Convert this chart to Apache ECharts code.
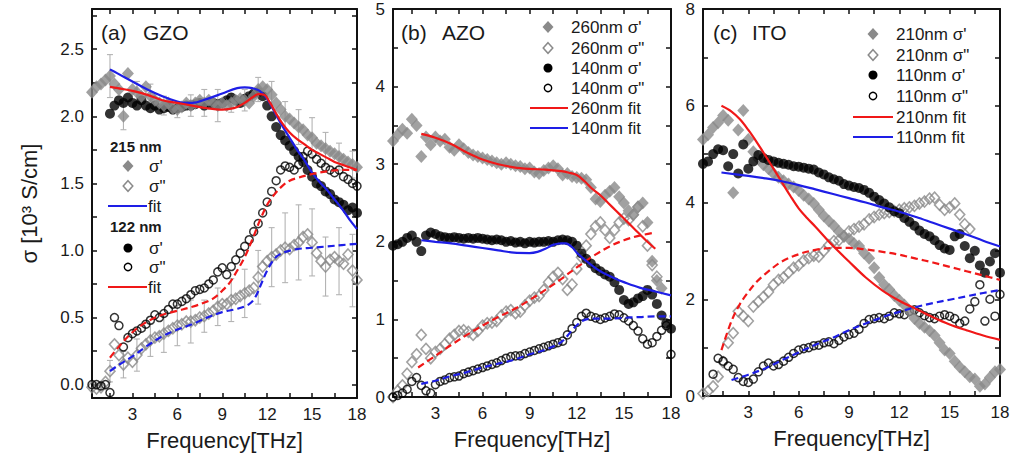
<!DOCTYPE html>
<html>
<head>
<meta charset="utf-8">
<script src="https://cdn.jsdelivr.net/npm/echarts@6/dist/echarts.min.js"></script>
<style>
  html, body { margin: 0; padding: 0; background: #fff; }
  #chart { width: 1011px; height: 459px; }
</style>
</head>
<body>
<div id="chart"></div>
<script>
// Frequency grid shared by all measured spectra (THz)
const freq = [0.3,0.6,0.9,1.2,1.5,1.8,2.1,2.4,2.7,3.0,
              3.3,3.6,3.9,4.2,4.5,4.8,5.1,5.4,5.7,6.0,
              6.3,6.6,6.9,7.2,7.5,7.8,8.1,8.4,8.7,9.0,
              9.3,9.6,9.9,10.2,10.5,10.8,11.1,11.4,11.7,12.0,
              12.3,12.6,12.9,13.2,13.5,13.8,14.1,14.4,14.7,15.0,
              15.3,15.6,15.9,16.2,16.5,16.8,17.1,17.4,17.7,18.0];

// Axis ticks and labels
const xTicks = [1.5,3,4.5,6,7.5,9,10.5,12,13.5,15,16.5];
const xLabels = [3,6,9,12,15,18];
const yTicksA = [0,0.25,0.5,0.75,1,1.25,1.5,1.75,2,2.25,2.5,2.75];
const yLabelsA = [0,0.5,1,1.5,2,2.5];
const yTicksB = [0.5,1,1.5,2,2.5,3,3.5,4,4.5];
const yLabelsB = [0,1,2,3,4,5];
const yTicksC = [1,2,3,4,5,6,7];
const yLabelsC = [0,2,4,6,8];

// (a) GZO, 215 nm film
const gzo215Re = [2.18,2.22,2.24,2.27,2.30,2.24,2.20,2.00,2.32,2.20,
                  2.18,2.15,2.22,2.15,2.12,2.10,2.08,2.10,2.06,2.05,
                  2.07,2.10,2.08,2.10,2.12,2.10,2.12,2.10,2.08,2.10,
                  2.08,2.10,2.12,2.13,2.12,2.10,2.15,2.20,2.22,2.20,
                  2.16,2.10,2.05,2.00,1.98,1.95,1.92,1.90,1.86,1.84,
                  1.80,1.78,1.76,1.74,1.72,1.70,1.68,1.66,1.64,1.62];
const gzo215Im = [-0.02,-0.03,-0.02,0.02,0.10,0.30,0.22,0.15,0.20,0.17,
                  0.22,0.27,0.30,0.33,0.35,0.36,0.38,0.40,0.42,0.44,
                  0.45,0.47,0.47,0.48,0.50,0.51,0.53,0.55,0.58,0.60,
                  0.60,0.63,0.64,0.66,0.68,0.70,0.72,0.80,0.88,0.92,
                  0.95,0.97,1.00,1.02,1.01,1.04,1.06,1.10,1.12,1.06,
                  0.98,0.92,0.88,0.93,0.95,0.92,0.90,0.97,0.85,0.78];
// error bar half-widths [freq, err]
const gzo215ReErr = [[1.5,0.16],[2.4,0.10],[3.3,0.08],[4.2,0.09],[5.1,0.07],[6.0,0.06],[6.9,0.08],
                     [7.8,0.10],[8.7,0.12],[9.6,0.07],[10.5,0.08],[11.4,0.09],[12.3,0.10],[13.2,0.11],
                     [14.1,0.13],[15.0,0.15],[15.9,0.12],[16.8,0.10],[17.7,0.10]];
const gzo215ImErr = [[1.5,0.08],[2.4,0.10],[3.3,0.12],[4.2,0.12],[5.1,0.14],[6.0,0.15],[6.9,0.16],
                     [7.8,0.12],[8.7,0.14],[9.6,0.16],[10.5,0.18],[11.4,0.20],[12.3,0.22],[13.2,0.26],
                     [14.1,0.28],[15.0,0.25],[15.9,0.22],[16.8,0.25],[17.7,0.27]];
// (a) GZO, 122 nm film
const gzo122Re = [null,null,null,null,2.02,2.08,2.12,2.10,2.14,2.10,
                  2.08,2.12,2.08,2.06,2.08,2.05,2.06,2.07,2.05,2.06,
                  2.07,2.08,2.08,2.09,2.10,2.08,2.09,2.10,2.09,2.10,
                  2.12,2.14,2.12,2.10,2.13,2.15,2.17,2.18,2.15,2.08,
                  2.00,1.92,1.86,1.82,1.78,1.74,1.70,1.66,1.60,1.55,
                  1.50,1.48,1.44,1.42,1.38,1.36,1.34,1.30,1.32,1.28];
const gzo122Im = [0.00,0.00,-0.01,0.00,-0.06,0.50,0.44,0.28,0.35,0.38,
                  0.40,0.42,0.45,0.48,0.52,0.50,0.53,0.56,0.60,0.60,
                  0.62,0.64,0.67,0.70,0.71,0.72,0.75,0.78,0.84,0.87,
                  0.82,0.88,0.93,0.98,1.03,1.08,1.14,1.20,1.28,1.36,
                  1.44,1.52,1.60,1.63,1.62,1.60,1.64,1.70,1.74,1.72,
                  1.68,1.65,1.62,1.60,1.58,1.60,1.55,1.53,1.50,1.48];
// (a) model fits [freq, sigma]
const gzo215FitRe = [[1.5,2.35],[2,2.32],[3,2.26],[4,2.20],[5,2.15],[6,2.11],[6.5,2.10],[7,2.10],[8,2.13],
                     [9,2.17],[10,2.21],[10.5,2.215],[11,2.21],[11.5,2.19],[12,2.13],[12.5,2.03],[13,1.93],
                     [13.5,1.84],[14,1.75],[14.5,1.67],[15,1.58],[15.5,1.51],[16,1.45],[16.5,1.38],
                     [17,1.31],[17.5,1.23],[18,1.16]];
const gzo215FitIm = [[1.5,0.10],[2,0.14],[3,0.21],[4,0.29],[5,0.36],[6,0.41],[7,0.45],[8,0.50],[9,0.54],
                     [10,0.565],[10.8,0.60],[11.2,0.65],[11.6,0.75],[12,0.85],[12.5,0.94],[13,0.98],
                     [14,1.01],[15,1.02],[16,1.03],[17,1.04],[18,1.05]];
const gzo122FitRe = [[1.5,2.22],[2,2.21],[3,2.19],[4,2.16],[5,2.12],[6,2.10],[7,2.08],[8,2.06],[9,2.05],
                     [9.5,2.055],[10,2.07],[10.5,2.10],[11,2.14],[11.4,2.165],[11.8,2.16],[12.2,2.10],
                     [12.6,2.02],[13,1.95],[13.5,1.88],[14,1.83],[14.5,1.79],[15,1.75],[15.5,1.72],
                     [16,1.69],[16.5,1.66],[17,1.64],[17.5,1.62],[18,1.60]];
const gzo122FitIm = [[1.5,0.20],[2,0.27],[3,0.39],[4,0.47],[5,0.52],[6,0.55],[7,0.58],[8,0.62],[8.5,0.65],
                     [9,0.70],[9.5,0.76],[10,0.85],[10.5,0.95],[11,1.08],[11.5,1.22],[12,1.34],[12.5,1.42],
                     [13,1.48],[13.5,1.52],[14,1.54],[15,1.57],[16,1.59],[17,1.60],[18,1.60]];

// (b) AZO, 260 nm and 140 nm films
const azo260Re = [3.30,3.38,3.45,3.40,3.58,3.50,3.10,3.35,3.25,3.35,
                  3.30,3.32,3.22,3.18,3.25,3.20,3.15,3.12,3.10,3.08,
                  3.06,3.04,3.02,3.00,3.02,3.00,2.98,2.97,2.94,2.95,
                  2.90,2.88,2.92,2.95,2.98,2.94,2.86,2.88,2.84,2.83,
                  2.82,2.80,2.70,2.55,2.52,2.60,2.65,2.70,2.58,2.50,
                  2.40,2.35,2.45,2.50,2.25,1.75,1.50,1.40,null,null];
const azo260Im = [0.00,0.08,0.15,0.30,0.45,0.55,0.80,0.62,0.50,0.58,
                  0.62,0.68,0.75,0.80,0.85,0.86,0.84,0.80,0.85,0.92,
                  0.95,0.96,0.98,1.05,1.10,1.12,1.08,1.10,1.18,1.24,
                  1.28,1.30,1.38,1.48,1.55,1.60,1.52,1.38,1.45,1.65,
                  1.80,1.95,2.10,2.20,2.25,2.15,2.05,2.15,2.25,2.30,
                  2.28,2.35,2.45,2.20,1.95,1.70,1.55,null,null,null];
const azo140Re = [1.95,1.97,2.00,2.05,2.08,2.00,1.88,2.08,2.12,2.10,
                  2.07,2.06,2.05,2.06,2.05,2.04,2.05,2.04,2.05,2.04,
                  2.03,2.02,2.03,2.02,2.00,2.01,1.99,2.00,1.98,2.00,
                  1.99,2.00,2.00,2.01,2.00,2.02,2.03,2.02,2.00,1.95,
                  1.85,1.78,1.72,1.66,1.62,1.58,1.55,1.48,1.38,1.25,
                  1.20,1.22,1.27,1.30,1.38,1.32,1.20,1.05,0.95,0.88];
const azo140Im = [0.00,0.02,0.05,0.10,0.20,0.25,0.15,0.08,0.05,0.16,
                  0.20,0.22,0.25,0.26,0.27,0.30,0.32,0.34,0.36,0.38,
                  0.40,0.42,0.44,0.47,0.50,0.52,0.53,0.53,0.56,0.58,
                  0.60,0.62,0.64,0.66,0.68,0.70,0.72,0.80,0.88,0.96,
                  1.04,1.08,1.04,1.02,1.00,1.02,1.04,1.07,1.06,1.02,
                  0.98,0.92,0.85,0.75,0.68,0.70,0.78,0.86,0.92,0.55];
const azo260FitRe = [[2.1,3.39],[3,3.34],[4,3.26],[5,3.15],[6,3.06],[7,3.00],[8,2.96],[9,2.94],[10,2.93],
                     [11,2.91],[11.5,2.89],[12,2.86],[12.5,2.78],[13,2.68],[13.5,2.60],[14,2.50],[14.5,2.40],
                     [15,2.30],[15.5,2.20],[16,2.10],[16.5,2.00],[17,1.91]];
const azo260FitIm = [[1.9,0.38],[3,0.53],[4,0.67],[5,0.80],[6,0.92],[7,1.03],[8,1.13],[9,1.25],[10,1.38],
                     [11,1.52],[12,1.67],[13,1.81],[14,1.93],[15,2.02],[16,2.08],[17,2.12]];
const azo140FitRe = [[2.1,2.02],[3,2.00],[4,1.98],[5,1.95],[6,1.92],[7,1.89],[8,1.86],[9,1.855],[9.5,1.87],
                     [10,1.91],[10.5,1.96],[11,1.98],[11.3,1.98],[11.7,1.93],[12,1.86],[12.5,1.77],[13,1.69],
                     [13.5,1.62],[14,1.57],[14.5,1.52],[15,1.48],[16,1.41],[17,1.36],[18,1.31]];
const azo140FitIm = [[2.1,0.17],[3,0.21],[4,0.27],[5,0.32],[6,0.38],[7,0.43],[8,0.48],[9,0.55],[10,0.61],
                     [10.8,0.68],[11.2,0.74],[11.7,0.86],[12.2,0.96],[12.6,1.00],[13,1.01],[14,1.01],
                     [15,1.02],[16,1.03],[17,1.04],[18,1.04]];

// (c) ITO, 210 nm and 110 nm films
const ito210Re = [5.30,5.40,5.55,5.65,5.80,5.70,4.20,5.50,5.90,5.30,
                  5.05,4.90,4.78,4.70,4.60,4.52,4.45,4.38,4.32,4.25,
                  4.15,4.07,3.98,3.85,3.72,3.62,3.52,3.40,3.30,3.25,
                  3.15,3.10,2.95,2.85,2.65,2.45,2.30,2.20,2.08,1.98,
                  1.88,1.75,1.60,1.50,1.42,1.35,1.25,1.10,0.95,0.88,
                  0.72,0.60,0.50,0.40,0.35,0.20,0.25,0.38,0.50,0.55];
const ito210Im = [0.05,0.10,0.20,0.40,0.70,1.10,1.30,1.75,1.65,1.55,
                  1.85,1.95,2.05,2.15,2.30,2.40,2.45,2.55,2.65,2.70,
                  2.80,2.85,2.90,2.88,3.00,3.12,3.20,3.22,3.30,3.40,
                  3.45,3.50,3.55,3.65,3.70,3.75,3.78,3.80,3.82,3.85,
                  3.88,3.90,3.93,3.98,4.02,4.08,4.10,3.95,3.85,3.90,
                  3.98,3.75,3.55,3.45,null,null,null,null,null,null];
const ito110Re = [4.80,4.85,5.00,5.10,5.08,4.75,5.00,4.60,5.20,4.70,
                  4.85,4.98,4.92,4.88,4.85,4.82,4.80,4.78,4.75,4.74,
                  4.72,4.70,4.68,4.62,4.58,4.52,4.48,4.45,4.38,4.35,
                  4.32,4.30,4.26,4.20,4.12,4.05,3.98,3.90,3.82,3.78,
                  3.68,3.60,3.52,3.42,3.35,3.30,3.22,3.12,3.05,3.02,
                  3.30,3.35,3.10,2.85,3.00,2.70,2.55,2.78,2.95,2.55];
const ito110Im = [null,null,0.45,0.78,0.72,0.62,0.55,0.38,0.30,0.28,
                  0.35,0.50,0.62,0.68,0.62,0.65,0.72,0.80,0.88,0.95,
                  0.98,1.00,1.04,1.05,1.10,1.12,1.08,1.15,1.22,1.27,
                  1.30,1.38,1.50,1.58,1.60,1.62,1.60,1.65,1.72,1.70,
                  1.68,1.75,1.78,1.72,1.66,1.62,1.60,1.65,1.68,1.65,
                  1.60,1.50,1.55,1.80,1.95,2.30,1.55,2.00,1.65,2.10];
const ito210FitRe = [[1.4,6.00],[2,5.88],[2.5,5.72],[3,5.50],[3.5,5.25],[4,4.98],[4.5,4.70],[5,4.42],
                     [5.5,4.14],[6,3.88],[6.5,3.68],[7,3.50],[8,3.12],[9,2.78],[10,2.45],[11,2.18],
                     [12,1.97],[13,1.80],[14,1.63],[15,1.48],[16,1.36],[17,1.25],[18,1.16]];
const ito210FitIm = [[1.4,0.95],[2,1.55],[2.5,1.90],[3,2.15],[3.5,2.36],[4,2.52],[5,2.78],[6,2.93],
                     [7,3.02],[8,3.06],[9,3.06],[10,3.03],[11,2.98],[12,2.92],[13,2.84],[14,2.76],
                     [15,2.67],[16,2.58],[17,2.49],[18,2.40]];
const ito110FitRe = [[1.4,4.62],[3,4.55],[4,4.50],[5,4.44],[6,4.36],[7,4.27],[8,4.18],[9,4.09],[10,4.00],
                     [11,3.90],[12,3.81],[13,3.70],[14,3.58],[15,3.46],[16,3.34],[17,3.21],[18,3.09]];
const ito110FitIm = [[2,0.33],[3,0.44],[4,0.57],[5,0.74],[6,0.90],[7,1.06],[8,1.20],[9,1.36],[10,1.50],
                     [11,1.63],[12,1.74],[13,1.84],[14,1.92],[15,1.99],[16,2.06],[17,2.13],[18,2.19]];

// ---------- styling ----------
const GRAY = '#8a8a8a';
const ERR = '#b4b4b4';
const RED = '#f01818';
const BLUE = '#1e1ee6';
const INK = '#1a1a1a';
const FONT = 'Arial, "Liberation Sans", sans-serif';

const markerKinds = {
  dFill: { symbol: 'diamond', symbolSize: [12, 13], itemStyle: { color: GRAY } },
  dOpen: { symbol: 'diamond', symbolSize: [10, 11], itemStyle: { color: 'rgba(255,255,255,0)', borderColor: GRAY, borderWidth: 1.6 } },
  cFill: { symbol: 'circle', symbolSize: 10, itemStyle: { color: '#000' } },
  cOpen: { symbol: 'circle', symbolSize: 8, itemStyle: { color: 'rgba(255,255,255,0)', borderColor: '#000', borderWidth: 1.5 } }
};

function pairs(vals) {
  const out = [];
  freq.forEach((f, i) => { if (vals[i] !== null) out.push([f, vals[i]]); });
  return out;
}

function markers(gi, vals, kind, z) {
  const k = markerKinds[kind];
  return {
    type: 'scatter', xAxisIndex: gi * 2, yAxisIndex: gi * 2, data: pairs(vals),
    symbol: k.symbol, symbolSize: k.symbolSize, itemStyle: k.itemStyle,
    silent: true, z: z || 2, clip: true
  };
}

function fit(gi, pts, color, dashed) {
  return {
    type: 'line', xAxisIndex: gi * 2, yAxisIndex: gi * 2, data: pts,
    smooth: 0.35, showSymbol: false, symbol: 'none', silent: true, z: 5, clip: true,
    lineStyle: { color: color, width: 2.2, type: dashed ? [7, 4] : 'solid' }
  };
}

function errorBars(gi, vals, errs) {
  const data = errs.map(([f, e]) => [f, vals[freq.indexOf(f)], e]);
  return {
    type: 'custom', xAxisIndex: gi * 2, yAxisIndex: gi * 2, data: data, silent: true, z: 1,
    renderItem: function (params, api) {
      const f = api.value(0), v = api.value(1), e = api.value(2);
      const hi = api.coord([f, v + e]), lo = api.coord([f, v - e]);
      const w = 3, st = { stroke: ERR, lineWidth: 1.1 };
      return { type: 'group', children: [
        { type: 'line', shape: { x1: hi[0], y1: hi[1], x2: lo[0], y2: lo[1] }, style: st },
        { type: 'line', shape: { x1: hi[0] - w, y1: hi[1], x2: hi[0] + w, y2: hi[1] }, style: st },
        { type: 'line', shape: { x1: lo[0] - w, y1: lo[1], x2: lo[0] + w, y2: lo[1] }, style: st }
      ]};
    }
  };
}

// ---------- axes ----------
const axisLineStyle = { color: '#111', width: 2 };
const tickStyle = { color: '#111', width: 1.5 };
const labelStyle = { color: INK, fontSize: 17, fontFamily: FONT };

function xAxes(gi) {
  const base = {
    type: 'value', gridIndex: gi, min: 0.3, max: 18,
    axisLine: { show: true, onZero: false, lineStyle: axisLineStyle },
    axisTick: { show: true, inside: true, length: 5, customValues: xTicks, lineStyle: tickStyle },
    splitLine: { show: false }
  };
  return [
    Object.assign({}, base, {
      position: 'bottom',
      axisLabel: Object.assign({ show: true, margin: 8, customValues: xLabels }, labelStyle),
      name: 'Frequency[THz]', nameLocation: 'middle', nameGap: 31,
      nameTextStyle: { color: INK, fontSize: 22, fontFamily: FONT }
    }),
    Object.assign({}, base, { position: 'top', axisLabel: { show: false } })
  ];
}

function yAxes(gi, min, max, ticks, labels, fmt, name) {
  const base = {
    type: 'value', gridIndex: gi, min: min, max: max,
    axisLine: { show: true, onZero: false, lineStyle: axisLineStyle },
    axisTick: { show: true, inside: true, length: 5, customValues: ticks, lineStyle: tickStyle },
    splitLine: { show: false }
  };
  const left = Object.assign({}, base, {
    position: 'left',
    axisLabel: Object.assign({ show: true, margin: 8, customValues: labels, formatter: fmt }, labelStyle)
  });
  if (name) {
    Object.assign(left, {
      name: name, nameLocation: 'middle', nameRotate: 90, nameGap: 52,
      nameTextStyle: { color: INK, fontSize: 22, fontFamily: FONT }
    });
  }
  return [left, Object.assign({}, base, { position: 'right', axisLabel: { show: false } })];
}

// ---------- legends and panel titles ----------
function icon(kind, cx, cy) {
  if (kind === 'dFill' || kind === 'dOpen') {
    const filled = kind === 'dFill';
    const hw = filled ? 5.5 : 4.8, hh = filled ? 6 : 5.3;
    return { type: 'polygon', shape: { points: [[cx, cy - hh], [cx + hw, cy], [cx, cy + hh], [cx - hw, cy]] },
             style: filled ? { fill: GRAY } : { fill: 'none', stroke: GRAY, lineWidth: 1.5 } };
  }
  if (kind === 'cFill') return { type: 'circle', shape: { cx: cx, cy: cy, r: 4.5 }, style: { fill: '#000' } };
  return { type: 'circle', shape: { cx: cx, cy: cy, r: 3.7 }, style: { fill: 'none', stroke: '#000', lineWidth: 1.4 } };
}
function lineIcon(color, x1, x2, y) {
  return { type: 'line', shape: { x1: x1, y1: y, x2: x2, y2: y }, style: { stroke: color, lineWidth: 2.2 } };
}
function label(text, x, y, size, bold) {
  return { type: 'text', x: x, y: y,
           style: { text: text, fill: INK, font: (bold ? 'bold ' : '') + size + 'px ' + FONT,
                    textAlign: 'left', textVerticalAlign: 'middle', verticalAlign: 'middle' } };
}

function legendBox(entries, symX, lineX1, lineX2, textX, rows) {
  const els = [];
  entries.forEach((e, i) => {
    const y = rows[i];
    if (e.kind === 'line') els.push(lineIcon(e.color, lineX1, lineX2, y));
    else els.push(icon(e.kind, symX, y));
    els.push(label(e.text, textX, y, 17, false));
  });
  return els;
}

const graphics = [].concat(
  // panel titles
  label('(a)', 101, 32, 21), label('GZO', 143, 32, 21),
  label('(b)', 401, 32, 21), label('AZO', 442, 32, 21),
  label('(c)', 713, 32, 21), label('ITO', 752, 32, 21),
  // (a) legend
  label('215 nm', 110, 146, 15, true),
  [icon('dFill', 128, 166), label("σ'", 149, 166, 17),
   icon('dOpen', 128, 186), label('σ"', 149, 186, 17),
   lineIcon(BLUE, 108, 147, 206), label('fit', 148, 206, 17)],
  label('122 nm', 110, 226, 15, true),
  [icon('cFill', 128, 248), label("σ'", 149, 248, 17),
   icon('cOpen', 128, 267), label('σ"', 149, 267, 17),
   lineIcon(RED, 108, 147, 287), label('fit', 148, 287, 17)],
  // (b) legend
  legendBox([
    { kind: 'dFill', text: "260nm σ'" }, { kind: 'dOpen', text: '260nm σ"' },
    { kind: 'cFill', text: "140nm σ'" }, { kind: 'cOpen', text: '140nm σ"' },
    { kind: 'line', color: RED, text: '260nm fit' }, { kind: 'line', color: BLUE, text: '140nm fit' }
  ], 548, 530, 568, 571, [27, 48, 68, 88, 108, 128]),
  // (c) legend
  legendBox([
    { kind: 'dFill', text: "210nm σ'" }, { kind: 'dOpen', text: '210nm σ"' },
    { kind: 'cFill', text: "110nm σ'" }, { kind: 'cOpen', text: '110nm σ"' },
    { kind: 'line', color: RED, text: '210nm fit' }, { kind: 'line', color: BLUE, text: '110nm fit' }
  ], 873, 853, 893, 896, [34, 55, 75, 96, 117, 137])
);

const option = {
  backgroundColor: '#fff',
  animation: false,
  grid: [
    { left: 92, top: 9, width: 265, height: 389, outerBoundsMode: 'none' },
    { left: 393, top: 9, width: 278, height: 388, outerBoundsMode: 'none' },
    { left: 703, top: 9, width: 297, height: 387, outerBoundsMode: 'none' }
  ],
  xAxis: [].concat(xAxes(0), xAxes(1), xAxes(2)),
  yAxis: [].concat(
    yAxes(0, -0.1, 2.8, yTicksA, yLabelsA, v => v.toFixed(1), 'σ [10³ S/cm]'),
    yAxes(1, 0, 5, yTicksB, yLabelsB, v => String(v)),
    yAxes(2, 0, 8, yTicksC, yLabelsC, v => String(v))
  ),
  series: [
    // (a)
    errorBars(0, gzo215Im, gzo215ImErr),
    errorBars(0, gzo215Re, gzo215ReErr),
    markers(0, gzo215Im, 'dOpen'),
    markers(0, gzo122Im, 'cOpen'),
    markers(0, gzo122Re, 'cFill'),
    markers(0, gzo215Re, 'dFill', 3),
    fit(0, gzo215FitRe, BLUE, false),
    fit(0, gzo215FitIm, BLUE, true),
    fit(0, gzo122FitRe, RED, false),
    fit(0, gzo122FitIm, RED, true),
    // (b)
    markers(1, azo260Im, 'dOpen'),
    markers(1, azo140Im, 'cOpen'),
    markers(1, azo260Re, 'dFill'),
    markers(1, azo140Re, 'cFill'),
    fit(1, azo260FitRe, RED, false),
    fit(1, azo260FitIm, RED, true),
    fit(1, azo140FitRe, BLUE, false),
    fit(1, azo140FitIm, BLUE, true),
    // (c)
    markers(2, ito210Im, 'dOpen'),
    markers(2, ito110Im, 'cOpen'),
    markers(2, ito210Re, 'dFill'),
    markers(2, ito110Re, 'cFill'),
    fit(2, ito210FitRe, RED, false),
    fit(2, ito210FitIm, RED, true),
    fit(2, ito110FitRe, BLUE, false),
    fit(2, ito110FitIm, BLUE, true)
  ],
  graphic: { elements: graphics }
};

const chart = echarts.init(document.getElementById('chart'), null, { renderer: 'svg' });
chart.setOption(option);
</script>
</body>
</html>
